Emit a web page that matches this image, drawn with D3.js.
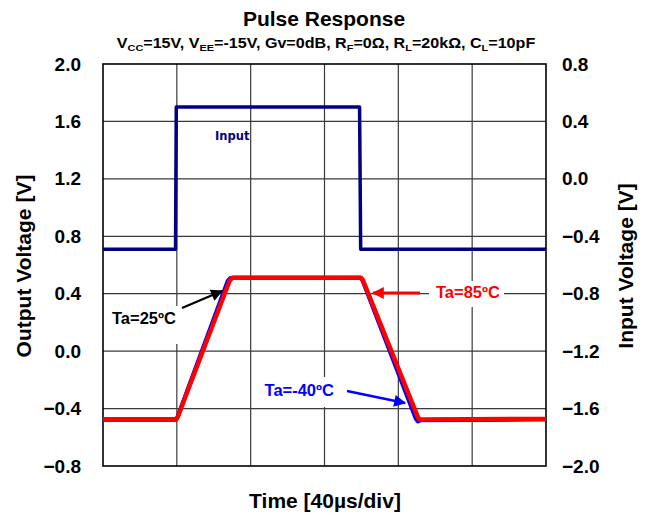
<!DOCTYPE html>
<html><head><meta charset="utf-8">
<script src="https://cdn.jsdelivr.net/npm/d3@7"></script>
<style>
html,body{margin:0;padding:0;background:#fff;}
text{font-family:"Liberation Sans",Arial,sans-serif;font-weight:bold;}
</style></head>
<body>
<svg id="chart" width="647" height="519"></svg>
<script>
// ---- data ----
const xTicks = [0, 40, 80, 120, 160, 200, 240];           // time, µs (40 µs/div)
const yLeftTicks = [-0.8, -0.4, 0.0, 0.4, 0.8, 1.2, 1.6, 2.0];
const yRightTicks = [-2.0, -1.6, -1.2, -0.8, -0.4, 0.0, 0.4, 0.8];

const inputTime = [0, 39.3, 39.7, 139.0, 139.6, 240];
const inputVolt = [-0.49, -0.49, 0.50, 0.50, -0.49, -0.49];

const outM40Time = [0, 39.5, 40.3, 67.6, 68.8, 70, 139.4, 140.5, 169.4, 170.6, 172, 240];
const outM40Volt = [-0.478, -0.478, -0.46, 0.49, 0.508, 0.512, 0.512, 0.495, -0.47, -0.49, -0.482, -0.475];

const out25Time = [0, 39.7, 40.5, 68.2, 69.4, 70.6, 139.5, 140.7, 170.0, 171.2, 172.5, 240];
const out25Volt = [-0.476, -0.476, -0.457, 0.49, 0.508, 0.512, 0.512, 0.495, -0.462, -0.482, -0.477, -0.473];

const out85Time = [0, 39.8, 40.6, 68.6, 69.8, 71, 139.6, 140.8, 170.6, 171.8, 173, 240];
const out85Volt = [-0.475, -0.475, -0.455, 0.49, 0.508, 0.512, 0.512, 0.495, -0.46, -0.478, -0.476, -0.472];

// ---- layout ----
const svg = d3.select("#chart");
const L = 103, R = 546, T = 64, B = 466;
const x = d3.scaleLinear().domain([0, 240]).range([L, R]);
const yL = d3.scaleLinear().domain([-0.8, 2.0]).range([B, T]);
const yR = d3.scaleLinear().domain([-2.0, 0.8]).range([B, T]);

// grid
const g = svg.append("g");
g.selectAll(".vg").data(xTicks.slice(1, -1)).join("line")
  .attr("x1", d => x(d)).attr("x2", d => x(d)).attr("y1", T).attr("y2", B)
  .attr("stroke", "#3a3a3a").attr("stroke-width", 1.2);
g.selectAll(".hg").data(yLeftTicks.slice(1, -1)).join("line")
  .attr("x1", L).attr("x2", R).attr("y1", d => yL(d)).attr("y2", d => yL(d))
  .attr("stroke", "#3a3a3a").attr("stroke-width", 1.2);

// axes (labels only)
const fmt = d3.format(".1f");
const axL = svg.append("g").attr("transform", `translate(${L},0)`)
  .call(d3.axisLeft(yL).tickValues(yLeftTicks).tickFormat(fmt).tickSize(0).tickPadding(22));
const axR = svg.append("g").attr("transform", `translate(${R},0)`)
  .call(d3.axisRight(yR).tickValues(yRightTicks).tickFormat(fmt).tickSize(0).tickPadding(16));
[axL, axR].forEach(a => {
  a.select(".domain").remove();
  a.selectAll("text").attr("font-size", 19).attr("fill", "#000")
    .attr("font-family", '"Liberation Sans",Arial,sans-serif').attr("font-weight", "bold");
});

// annotation backgrounds
const bg = svg.append("g");
bg.append("rect").attr("x", 108).attr("y", 306).attr("width", 73).attr("height", 38).attr("fill", "#fff");
bg.append("rect").attr("x", 429).attr("y", 281).attr("width", 75).attr("height", 26).attr("fill", "#fff");
bg.append("rect").attr("x", 262).attr("y", 377).attr("width", 76).attr("height", 30).attr("fill", "#fff");

// border
svg.append("rect").attr("x", L).attr("y", T).attr("width", R - L).attr("height", B - T)
  .attr("fill", "none").attr("stroke", "#000").attr("stroke-width", 1.6);

// lines
const mk = (ts, vs) => ts.map((t, i) => [t, vs[i]]);
const lineL = d3.line().x(d => x(d[0])).y(d => yL(d[1])).curve(d3.curveLinear);
const lineR = d3.line().x(d => x(d[0])).y(d => yR(d[1]));

svg.append("path").attr("d", lineR(mk(inputTime, inputVolt)))
  .attr("fill", "none").attr("stroke", "#000080").attr("stroke-width", 3.5).attr("stroke-linejoin", "round");
svg.append("path").attr("d", lineL(mk(out25Time, out25Volt)))
  .attr("fill", "none").attr("stroke", "#000").attr("stroke-width", 3.5).attr("stroke-linejoin", "round");
svg.append("path").attr("d", lineL(mk(outM40Time, outM40Volt)))
  .attr("fill", "none").attr("stroke", "#0000ff").attr("stroke-width", 4).attr("stroke-linejoin", "round");
svg.append("path").attr("d", lineL(mk(out85Time, out85Volt)))
  .attr("fill", "none").attr("stroke", "#ff0000").attr("stroke-width", 4.5).attr("stroke-linejoin", "round");

// arrows
const defs = svg.append("defs");
function marker(id, color) {
  defs.append("marker").attr("id", id).attr("viewBox", "0 0 10 10").attr("refX", 9).attr("refY", 5)
    .attr("markerWidth", 14).attr("markerHeight", 12).attr("markerUnits", "userSpaceOnUse")
    .attr("orient", "auto").append("path").attr("d", "M0,0L10,5L0,10Z").attr("fill", color);
}
marker("aK", "#000"); marker("aR", "#ff0000"); marker("aB", "#0000ff");
svg.append("line").attr("x1", 182).attr("y1", 308).attr("x2", 222).attr("y2", 291)
  .attr("stroke", "#000").attr("stroke-width", 2.2).attr("marker-end", "url(#aK)");
svg.append("line").attr("x1", 420).attr("y1", 293).attr("x2", 373).attr("y2", 293)
  .attr("stroke", "#ff0000").attr("stroke-width", 3).attr("marker-end", "url(#aR)");
svg.append("line").attr("x1", 347).attr("y1", 391).attr("x2", 405).attr("y2", 403)
  .attr("stroke", "#0000ff").attr("stroke-width", 2.5).attr("marker-end", "url(#aB)");

// annotation texts
svg.append("text").attr("x", 112).attr("y", 324).attr("font-size", 16.5).attr("fill", "#000").text("Ta=25ºC");
svg.append("text").attr("x", 436).attr("y", 298).attr("font-size", 16.5).attr("fill", "#ff0000").text("Ta=85ºC");
svg.append("text").attr("x", 334).attr("y", 396).attr("text-anchor", "end").attr("font-size", 16.5).attr("fill", "#0000ff").text("Ta=-40ºC");
svg.append("text").attr("x", 215).attr("y", 140).attr("font-size", 11.5).attr("fill", "#000080")
  .style("font-family", '"DejaVu Sans",Verdana,sans-serif').text("Input");

// titles
svg.append("text").attr("x", 324).attr("y", 26).attr("text-anchor", "middle").attr("font-size", 21).text("Pulse Response");
const sub = svg.append("text").attr("transform", "translate(326,48) scale(1.15,1)").attr("x", 0).attr("y", 0)
  .attr("text-anchor", "middle").attr("font-size", 14);
const parts = [["V",""],["CC","s"],["=15V, V",""],["EE","s"],["=-15V, Gv=0dB, R",""],["F","s"],["=0Ω, R",""],["L","s"],["=20kΩ, C",""],["L","s"],["=10pF",""]];
let prevSub = false;
parts.forEach(([t, k]) => {
  const ts = sub.append("tspan").text(t);
  if (k === "s") { ts.attr("font-size", 9.5).attr("dy", 3); prevSub = true; }
  else if (prevSub) { ts.attr("dy", -3); prevSub = false; }
});

svg.append("text").attr("x", 325).attr("y", 508).attr("text-anchor", "middle").attr("font-size", 21).text("Time [40µs/div]");
svg.append("text").attr("transform", "translate(31,266) rotate(-90)").attr("text-anchor", "middle").attr("font-size", 21).text("Output Voltage [V]");
svg.append("text").attr("transform", "translate(633,266) rotate(-90)").attr("text-anchor", "middle").attr("font-size", 21).text("Input Voltage [V]");
</script>
</body></html>
